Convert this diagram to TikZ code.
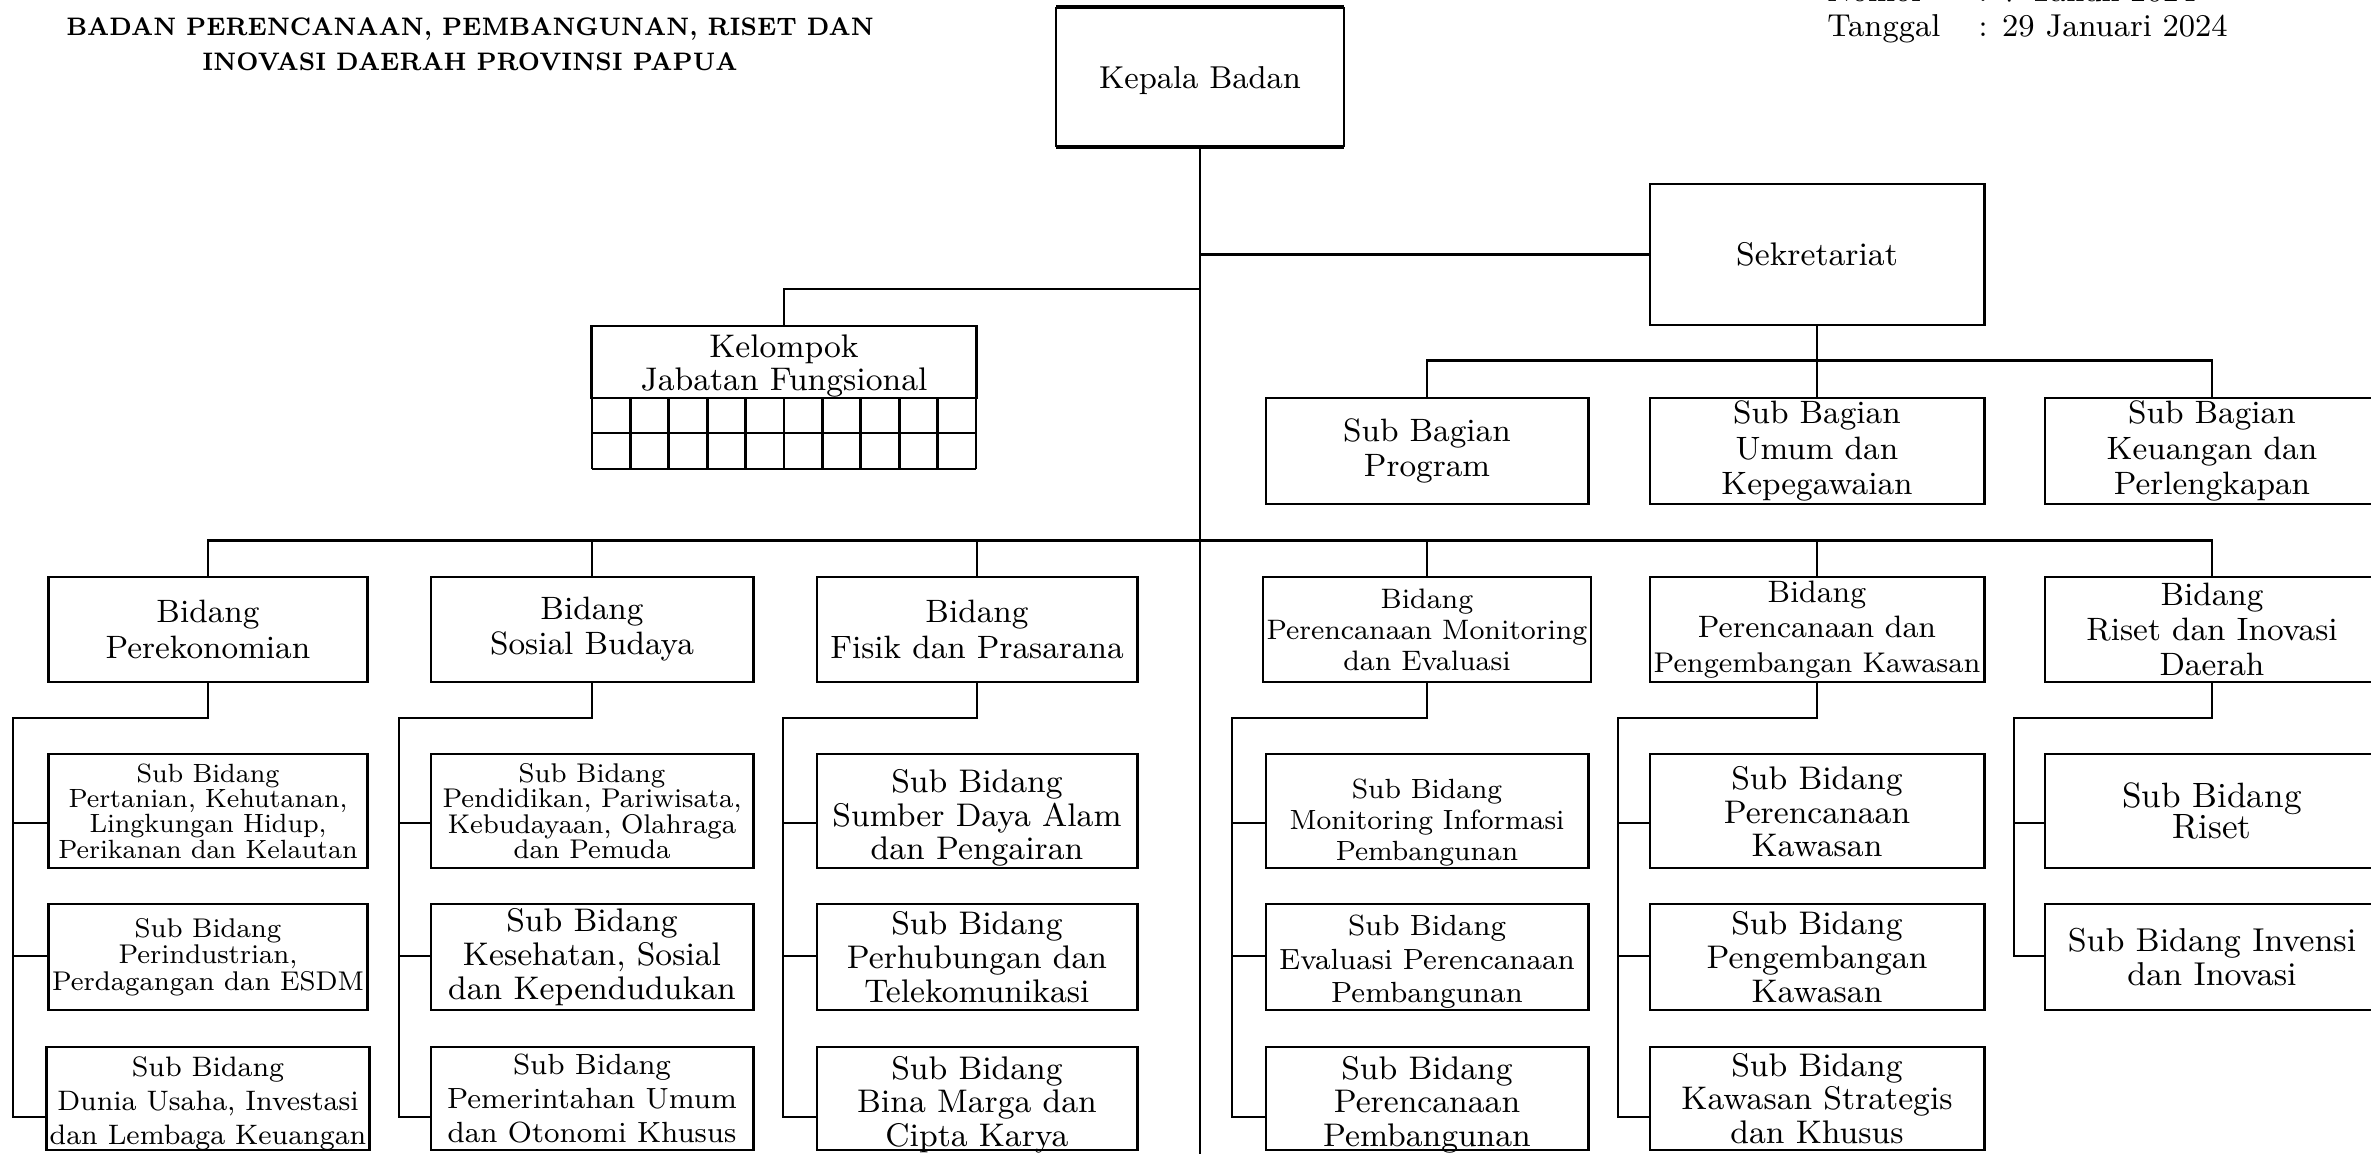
\documentclass[tikz,border=0pt]{standalone}
\usepackage{graphicx}
\usepackage{tikz}
\usetikzlibrary{positioning}
\newcommand{\fs}[2]{\fontsize{#1}{#2}\selectfont\lineskiplimit=-5pt}
% turunkan teks dalam kotak sejauh #1
\newcommand{\geser}[2]{\raisebox{0pt}[\height][\dimexpr\depth-#1-#1\relax]{\begin{tabular}{@{}c@{}}#2\end{tabular}}}
\tikzset{
  kotak/.style={draw,line width=0.8pt,align=center,inner xsep=1pt,inner ysep=0pt},
  garis/.style={line width=0.8pt},
}

\begin{document}
\begin{tikzpicture}[x=0.01cm,y=-0.01cm]
\clip (0,0) rectangle (2371,1154);
\fill[white] (0,0) rectangle (2371,1154);

% judul
\node[font=\fs{7.2}{10}\bfseries] (judul) at (470,28) {\scalebox{0.905}[1]{\begin{tabular}{@{}c@{}}STRUKTUR ORGANISASI\\BADAN PERENCANAAN, PEMBANGUNAN, RISET DAN\\INOVASI DAERAH PROVINSI PAPUA\end{tabular}}};
\node[anchor=base west,font=\fs{9}{10}] (nomor) at (1815,1) {\makebox[43pt][l]{Nomor}: 7 Tahun 2024};
\node[anchor=base west,font=\fs{9}{10}] (tanggal) at (1815,36) {\makebox[43pt][l]{Tanggal}: 29 Januari 2024};

% pimpinan
\node[kotak,draw=none,minimum width=2.85cm,minimum height=1.37cm,font=\fs{9}{10}] (kb) at (1200,77) {\geser{1.3pt}{Kepala Badan}};
\draw[line width=1.1pt] (kb.north west) -- (kb.north east) (kb.south west) -- (kb.south east);
\draw[line width=0.4pt] (kb.north west) -- (kb.south west) (kb.north east) -- (kb.south east);
\node[kotak,minimum width=3.34cm,minimum height=1.41cm,font=\fs{9.3}{10}] (sek) at (1817,254.5) {Sekretariat};
\node[kotak,minimum width=3.84cm,minimum height=0.72cm,font=\fs{9.3}{9.4}] (kjf) at (784,362) {\geser{1.5pt}{Kelompok\\Jabatan Fungsional}};
\foreach \i in {0,...,10} \draw[garis] (592+38.4*\i,398) -- (592+38.4*\i,469);
\draw[garis] (592,433) -- (976,433) (592,469) -- (976,469);

% sub bagian
\node[kotak,minimum width=3.22cm,minimum height=1.06cm,font=\fs{9.2}{10.1}] (sb1) at (1427,451) {Sub Bagian\\Program};
\node[kotak,minimum width=3.34cm,minimum height=1.06cm,font=\fs{9.2}{10.1}] (sb2) at (1817,451) {Sub Bagian\\Umum dan\\Kepegawaian};
\node[kotak,minimum width=3.34cm,minimum height=1.06cm,font=\fs{9.2}{10.1}] (sb3) at (2212,451) {Sub Bagian\\Keuangan dan\\Perlengkapan};

% bidang
\node[kotak,minimum width=3.19cm,minimum height=1.05cm,font=\fs{9.2}{10}] (b1) at (208,629.5) {Bidang\\Perekonomian};
\node[kotak,minimum width=3.22cm,minimum height=1.05cm,font=\fs{9.2}{10}] (b2) at (592,629.5) {Bidang\\Sosial Budaya};
\node[kotak,minimum width=3.20cm,minimum height=1.05cm,font=\fs{9.2}{10}] (b3) at (977,629.5) {Bidang\\Fisik dan Prasarana};
\node[kotak,minimum width=3.22cm,minimum height=1.05cm,font=\fs{8}{8.8}] (b4) at (1427,629.5) {Bidang\\Perencanaan Monitoring\\dan Evaluasi};
\node[kotak,minimum width=3.34cm,minimum height=1.05cm,font=\fs{8.8}{10}] (b5) at (1817,629.5) {Bidang\\Perencanaan dan\\{\fs{8.1}{10}Pengembangan Kawasan}};
\node[kotak,minimum width=3.34cm,minimum height=1.05cm,font=\fs{9.2}{10}] (b6) at (2212,629.5) {Bidang\\Riset dan Inovasi\\Daerah};

% sub bidang
\node[kotak,minimum width=3.19cm,minimum height=1.14cm,font=\fs{7.5}{7.2}] (s11) at (208,811) {Sub Bidang\\Pertanian, Kehutanan,\\Lingkungan Hidup,\\Perikanan dan Kelautan};
\node[kotak,minimum width=3.19cm,minimum height=1.06cm,font=\fs{7.7}{7.6}] (s12) at (208,957) {Sub Bidang\\Perindustrian,\\Perdagangan dan ESDM};
\node[kotak,minimum width=3.19cm,minimum height=1.03cm,font=\fs{8}{9.6}] (s13) at (208,1098.5) {\geser{1.5pt}{Sub Bidang\\Dunia Usaha, Investasi\\dan Lembaga Keuangan}};

\node[kotak,minimum width=3.22cm,minimum height=1.14cm,font=\fs{7.7}{7.2}] (s21) at (592,811) {Sub Bidang\\Pendidikan, Pariwisata,\\Kebudayaan, Olahraga\\dan Pemuda};
\node[kotak,minimum width=3.22cm,minimum height=1.06cm,font=\fs{9.3}{9.7}] (s22) at (592,957) {Sub Bidang\\Kesehatan, Sosial\\dan Kependudukan};
\node[kotak,minimum width=3.22cm,minimum height=1.03cm,font=\fs{8.3}{9.6}] (s23) at (592,1098.5) {Sub Bidang\\Pemerintahan Umum\\dan Otonomi Khusus};

\node[kotak,minimum width=3.20cm,minimum height=1.14cm,font=\fs{9.3}{9.6}] (s31) at (977,811) {\geser{2.4pt}{Sub Bidang\\Sumber Daya Alam\\dan Pengairan}};
\node[kotak,minimum width=3.20cm,minimum height=1.06cm,font=\fs{9.3}{9.6}] (s32) at (977,957) {Sub Bidang\\Perhubungan dan\\Telekomunikasi};
\node[kotak,minimum width=3.20cm,minimum height=1.03cm,font=\fs{9.3}{9.6}] (s33) at (977,1098.5) {\geser{2.2pt}{Sub Bidang\\Bina Marga dan\\Cipta Karya}};

\node[kotak,minimum width=3.22cm,minimum height=1.14cm,font=\fs{7.9}{8.8}] (s41) at (1427,811) {\geser{3.6pt}{Sub Bidang\\Monitoring Informasi\\Pembangunan}};
\node[kotak,minimum width=3.22cm,minimum height=1.06cm,font=\fs{8.3}{9.6}] (s42) at (1427,957) {\geser{1.5pt}{Sub Bidang\\Evaluasi Perencanaan\\Pembangunan}};
\node[kotak,minimum width=3.22cm,minimum height=1.03cm,font=\fs{9.3}{9.6}] (s43) at (1427,1098.5) {\geser{2.2pt}{Sub Bidang\\Perencanaan\\Pembangunan}};

\node[kotak,minimum width=3.34cm,minimum height=1.14cm,font=\fs{9.3}{9.6}] (s51) at (1817,811) {\geser{1.5pt}{Sub Bidang\\Perencanaan\\Kawasan}};
\node[kotak,minimum width=3.34cm,minimum height=1.06cm,font=\fs{9.3}{9.6}] (s52) at (1817,957) {Sub Bidang\\Pengembangan\\Kawasan};
\node[kotak,minimum width=3.34cm,minimum height=1.03cm,font=\fs{9.3}{9.6}] (s53) at (1817,1098.5) {Sub Bidang\\Kawasan Strategis\\dan Khusus};

\node[kotak,minimum width=3.34cm,minimum height=1.14cm,font=\fs{10}{8.6}] (s61) at (2212,811) {Sub Bidang\\Riset};
\node[kotak,minimum width=3.34cm,minimum height=1.06cm,font=\fs{9.4}{9.7}] (s62) at (2212,957) {Sub Bidang Invensi\\dan Inovasi};

% garis
\coordinate (ujung) at (1200,1160);
\draw[garis] (kb.south) -- (ujung);
\draw[garis] (kb.south |- sek.west) -- (sek.west);
\coordinate (jkjf) at (1200,289);
\draw[garis] (jkjf) -| (kjf.north);
\draw[garis] (sb1.north) -- ++(0,-36) -| (sb3.north);
\draw[garis] (sek.south) -- (sb2.north);
\draw[garis] (b1.north) -- ++(0,-35) -| (b6.north);
\foreach \c in {2,...,5} \draw[garis] (b\c.north) -- ++(0,-35);

\coordinate (r1) at (0,823);
\coordinate (r2) at (0,956);
\coordinate (r3) at (0,1117);
\foreach \c/\x in {1/13,2/399,3/783,4/1232,5/1618} {
  \coordinate (l\c) at (\x,718);
  \draw[garis] (b\c.south) |- (l\c) -- (l\c |- r3) -- (s\c3.west |- r3);
  \draw[garis] (l\c |- r1) -- (s\c1.west |- r1);
  \draw[garis] (l\c |- r2) -- (s\c2.west |- r2);
}
\coordinate (l6) at (2014,718);
\draw[garis] (b6.south) |- (l6) -- (l6 |- r2) -- (s62.west |- r2);
\draw[garis] (l6 |- r1) -- (s61.west |- r1);
\end{tikzpicture}
\end{document}
